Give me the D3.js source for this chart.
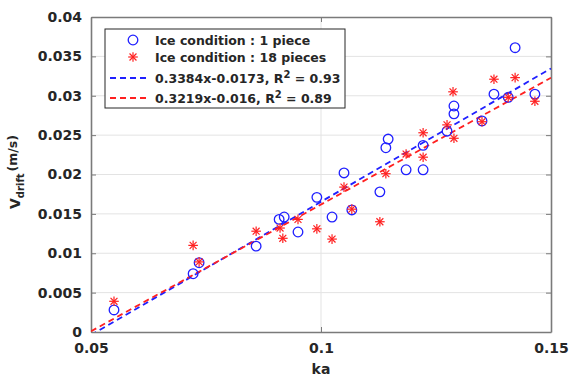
<!DOCTYPE html>
<html>
<head>
<meta charset="utf-8">
<script src="https://cdn.jsdelivr.net/npm/d3@7"></script>
<style>
body { margin: 0; background: #fff; }
text { font-family: "DejaVu Sans", sans-serif; font-weight: bold; fill: #262626; }
</style>
</head>
<body>
<svg width="569" height="377"></svg>
<script>
// ka and drift speed, ice condition: 1 piece
var onePieceKa = [0.0550, 0.0722, 0.0735, 0.0859, 0.0909, 0.0920, 0.0950, 0.0991, 0.1024, 0.1050,
    0.1067, 0.1128, 0.1141, 0.1146, 0.1185, 0.1222, 0.1222, 0.1274, 0.1289, 0.1289,
    0.1350, 0.1376, 0.1407, 0.1422, 0.1465];
var onePieceV = [0.0028, 0.0074, 0.0088, 0.0109, 0.0143, 0.0146, 0.0127, 0.0171, 0.0146, 0.0202,
    0.0155, 0.0178, 0.0234, 0.0245, 0.0206, 0.0206, 0.0237, 0.0255, 0.0277, 0.0287,
    0.0268, 0.0302, 0.0298, 0.0361, 0.0302];

// ice condition: 18 pieces
var piecesKa = [0.0550, 0.0722, 0.0735, 0.0859, 0.0911, 0.0917, 0.0950, 0.0991, 0.1024, 0.1050,
    0.1067, 0.1128, 0.1141, 0.1185, 0.1222, 0.1222, 0.1274, 0.1289, 0.1287, 0.1350,
    0.1376, 0.1422, 0.1407, 0.1465];
var piecesV = [0.0039, 0.0110, 0.0089, 0.0128, 0.0132, 0.0119, 0.0143, 0.0131, 0.0118, 0.0184,
    0.0156, 0.0140, 0.0201, 0.0226, 0.0253, 0.0222, 0.0263, 0.0246, 0.0305, 0.0267,
    0.0321, 0.0323, 0.0298, 0.0293];

// linear fits (slope, intercept)
var fitOne = {slope: 0.3384, intercept: -0.0173};
var fitPieces = {slope: 0.3219, intercept: -0.016};

var xTicks = [0.05, 0.1, 0.15];
var yTicks = [0, 0.005, 0.01, 0.015, 0.02, 0.025, 0.03, 0.035, 0.04];

var svg = d3.select('svg');
var padding = {t: 17, r: 18, b: 45, l: 91};
var plotW = 569 - padding.l - padding.r;
var plotH = 377 - padding.t - padding.b;

var x = d3.scaleLinear().domain([0.05, 0.15]).range([0, plotW]);
var y = d3.scaleLinear().domain([0, 0.04]).range([plotH, 0]);

var g = svg.append('g').attr('transform', 'translate(' + padding.l + ',' + padding.t + ')');

svg.append('defs').append('clipPath').attr('id', 'clip')
    .append('rect').attr('width', plotW).attr('height', plotH);

// grid
g.selectAll('.gx').data(xTicks.slice(1, -1)).enter().append('line')
    .attr('x1', function(d) { return x(d); }).attr('x2', function(d) { return x(d); })
    .attr('y1', 0).attr('y2', plotH)
    .attr('stroke', '#e3e3e3').attr('stroke-width', 1);
g.selectAll('.gy').data(yTicks.slice(1, -1)).enter().append('line')
    .attr('y1', function(d) { return y(d); }).attr('y2', function(d) { return y(d); })
    .attr('x1', 0).attr('x2', plotW)
    .attr('stroke', '#e3e3e3').attr('stroke-width', 1);

// axes with inner ticks
var fmt = function(d) { return d3.format('~g')(d); };
var axisL = g.append('g').call(d3.axisLeft(y).tickValues(yTicks).tickSizeInner(-5).tickSizeOuter(0).tickPadding(9).tickFormat(fmt));
var axisB = g.append('g').attr('transform', 'translate(0,' + plotH + ')')
    .call(d3.axisBottom(x).tickValues(xTicks).tickSizeInner(-5).tickSizeOuter(0).tickPadding(11).tickFormat(fmt));
var axisR = g.append('g').attr('transform', 'translate(' + plotW + ',0)')
    .call(d3.axisRight(y).tickValues(yTicks).tickSizeInner(-5).tickSizeOuter(0).tickFormat(''));
var axisT = g.append('g')
    .call(d3.axisTop(x).tickValues(xTicks).tickSizeInner(-5).tickSizeOuter(0).tickFormat(''));

[axisL, axisB, axisR, axisT].forEach(function(a) {
    a.select('.domain').attr('stroke', '#7a7a7a').attr('stroke-width', 1.6);
    a.selectAll('.tick line').attr('stroke', '#7a7a7a');
    a.selectAll('.tick text').style('font-size', '14px').attr('fill', '#262626')
        .style('font-family', '"DejaVu Sans", sans-serif').style('font-weight', 'bold');
});

// fit lines
var plot = g.append('g').attr('clip-path', 'url(#clip)');
function fitLine(f, color) {
    var pts = [0.05, 0.15].map(function(k) { return [k, f.slope * k + f.intercept]; });
    plot.append('path')
        .attr('d', d3.line().x(function(d) { return x(d[0]); }).y(function(d) { return y(d[1]); })(pts))
        .attr('fill', 'none').attr('stroke', color).attr('stroke-width', 1.8)
        .attr('stroke-dasharray', '6,4');
}

// markers
function star(sel, cx, cy, r) {
    var s = sel.append('g').attr('transform', 'translate(' + cx + ',' + cy + ')')
        .attr('stroke', '#ff2020').attr('stroke-width', 1.2);
    var d = r * 0.72;
    s.append('line').attr('x1', -r).attr('x2', r).attr('y1', 0).attr('y2', 0);
    s.append('line').attr('y1', -r).attr('y2', r).attr('x1', 0).attr('x2', 0);
    s.append('line').attr('x1', -d).attr('x2', d).attr('y1', -d).attr('y2', d);
    s.append('line').attr('x1', -d).attr('x2', d).attr('y1', d).attr('y2', -d);
}

onePieceKa.forEach(function(k, i) {
    g.append('circle').attr('cx', x(k)).attr('cy', y(onePieceV[i])).attr('r', 4.8)
        .attr('fill', 'none').attr('stroke', '#2020ff').attr('stroke-width', 1.3);
});
piecesKa.forEach(function(k, i) {
    star(g, x(k), y(piecesV[i]), 4.8);
});

fitLine(fitOne, '#2020ff');
fitLine(fitPieces, '#ff2020');

// axis labels
svg.append('text').attr('x', padding.l + plotW / 2).attr('y', 374)
    .attr('text-anchor', 'middle').style('font-size', '14px').text('ka');

var yl = svg.append('text').attr('transform', 'translate(20,172) rotate(-90)')
    .attr('text-anchor', 'middle').style('font-size', '14px');
yl.append('tspan').text('V');
yl.append('tspan').attr('dy', 4).style('font-size', '10px').text('drift');
yl.append('tspan').attr('dy', -7).attr('dx', 2).style('font-size', '12.5px').text('(m/s)');

// legend
var lg = svg.append('g').attr('transform', 'translate(105,29)');
lg.append('rect').attr('width', 240).attr('height', 79)
    .attr('fill', '#fff').attr('stroke', '#262626').attr('stroke-width', 1);

var rows = [
    {type: 'circle', label: 'Ice condition : 1 piece', y: 11},
    {type: 'star', label: 'Ice condition : 18 pieces', y: 28},
    {type: 'line', color: '#2020ff', fit: fitOne, r2: '0.93', y: 49},
    {type: 'line', color: '#ff2020', fit: fitPieces, r2: '0.89', y: 69}
];
rows.forEach(function(r) {
    if (r.type === 'circle') {
        lg.append('circle').attr('cx', 28).attr('cy', r.y).attr('r', 4.8)
            .attr('fill', 'none').attr('stroke', '#2020ff').attr('stroke-width', 1.3);
    } else if (r.type === 'star') {
        star(lg, 28, r.y, 4.8);
    } else {
        lg.append('line').attr('x1', 5).attr('x2', 43).attr('y1', r.y).attr('y2', r.y)
            .attr('stroke', r.color).attr('stroke-width', 1.8).attr('stroke-dasharray', '6,4');
    }
    var t = lg.append('text').attr('x', 50).attr('y', r.y + 5).style('font-size', '12.5px');
    if (r.label) {
        t.text(r.label);
    } else {
        t.append('tspan').text(r.fit.slope + 'x' + r.fit.intercept + ', R');
        t.append('tspan').attr('dy', -5).style('font-size', '10px').text('2');
        t.append('tspan').attr('dy', 5).text(' = ' + r.r2);
    }
});
</script>
</body>
</html>
